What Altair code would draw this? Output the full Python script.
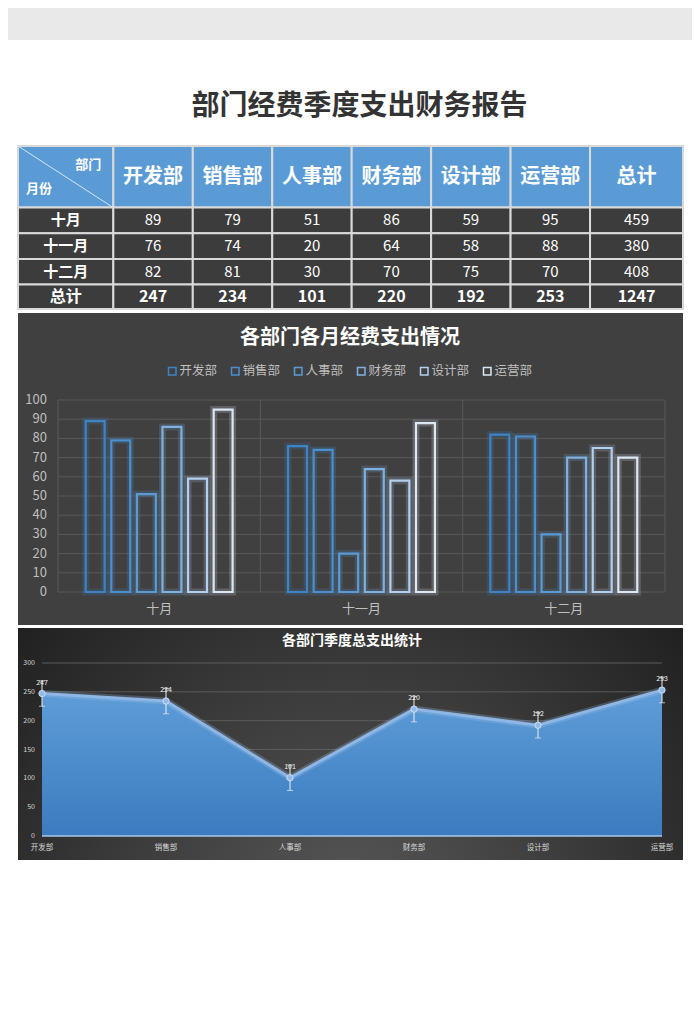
import altair as alt
import pandas as pd

# ---------------- data ----------------
REPORT_TITLE = "部门经费季度支出财务报告"
BAR_TITLE = "各部门各月经费支出情况"
AREA_TITLE = "各部门季度总支出统计"
CORNER_DEPT = "部门"
CORNER_MONTH = "月份"
TOTAL_LABEL = "总计"

depts = ["开发部", "销售部", "人事部", "财务部", "设计部", "运营部"]
months = ["十月", "十一月", "十二月"]
oct_vals = [89, 79, 51, 86, 59, 95]
nov_vals = [76, 74, 20, 64, 58, 88]
dec_vals = [82, 81, 30, 70, 75, 70]
month_totals = [459, 380, 408]
dept_totals = [247, 234, 101, 220, 192, 253]
grand_total = 1247
dept_err = [22, 22, 22, 22, 22, 22]
bar_ticks = [0, 10, 20, 30, 40, 50, 60, 70, 80, 90, 100]
area_ticks = [0, 50, 100, 150, 200, 250, 300]

# ---------------- style / layout ----------------
FONT = "Noto Sans CJK SC"
W = 684
bar_colors = ["#3d84c6", "#4a8fd0", "#5b9bd5", "#7fb1e0", "#b3cfee", "#dce7f4"]
HEADER_BLUE = "#5b9bd5"
BODY_DARK = "#3c3c3c"
GRID_LINE = "#d9d9d9"

# header panel
H1 = 132
# table panel
H2 = 171
TBL_X = [10, 675]
TBL_Y = [6, 169]
col_w = [1.2, 1, 1, 1, 1, 1, 1, 1.17]
row_w = [2.4, 1, 1, 1, 0.95]
# bar panel
H3 = 316
B_BG = (10, 2, 675, 314)
B_X = [50, 657]
B_Y = [281, 89]
B_GROUP = [27.7, 174.6]   # bar group span inside each month band
# area panel
H4 = 235
A_BG = (10, 1, 675, 233)
A_X = [34, 654]
A_Y = [209, 36]

one = pd.DataFrame({"k": [0]})


def bg_rect(box, fill):
    x0, y0, x1, y1 = box
    return alt.Chart(one).mark_rect(fill=fill).encode(
        x=alt.value(x0), x2=alt.value(x1), y=alt.value(y0), y2=alt.value(y1)
    )


def label(text, x, y, size, color, weight="normal"):
    return alt.Chart(pd.DataFrame({"t": [text]})).mark_text(
        fontSize=size, fontWeight=weight, color=color, font=FONT,
        align="center", baseline="middle"
    ).encode(text="t:N", x=alt.value(x), y=alt.value(y))


# ---------------- header ----------------
header = alt.layer(
    bg_rect((0, 0, W, 32), "#e9e9e9"),
    label(REPORT_TITLE, 351.5, 99, 28, "#333333", "bold"),
).properties(width=W, height=H1)

# ---------------- table ----------------
col_edges = [0]
for w_ in col_w:
    col_edges.append(col_edges[-1] + w_)
row_edges = [0]
for h_ in row_w:
    row_edges.append(row_edges[-1] + h_)

rows_text = [
    [""] + depts + [TOTAL_LABEL],
    [months[0]] + oct_vals + [month_totals[0]],
    [months[1]] + nov_vals + [month_totals[1]],
    [months[2]] + dec_vals + [month_totals[2]],
    [TOTAL_LABEL] + dept_totals + [grand_total],
]
cells = []
for r in range(5):
    for c in range(8):
        if r == 0:
            kind = "header"
        elif r == 4:
            kind = "total"
        elif c == 0:
            kind = "label"
        else:
            kind = "value"
        cells.append(dict(
            r=r, c=c, kind=kind, text=str(rows_text[r][c]),
            x0=col_edges[c], x1=col_edges[c + 1],
            y0=row_edges[r], y1=row_edges[r + 1],
            xm=(col_edges[c] + col_edges[c + 1]) / 2,
            ym=(row_edges[r] + row_edges[r + 1]) / 2,
            fill=HEADER_BLUE if r == 0 else BODY_DARK,
        ))
cells_df = pd.DataFrame(cells)

tx = alt.Scale(domain=[0, col_edges[-1]], range=TBL_X, nice=False, zero=False)
ty = alt.Scale(domain=[0, row_edges[-1]], range=TBL_Y, nice=False, zero=False)

tbl_base = alt.Chart(cells_df)
tbl_rects = tbl_base.mark_rect(stroke=GRID_LINE, strokeWidth=2).encode(
    x=alt.X("x0:Q", scale=tx, axis=None), x2="x1:Q",
    y=alt.Y("y0:Q", scale=ty, axis=None), y2="y1:Q",
    fill=alt.Fill("fill:N", scale=None),
)


def tbl_text(kind, size, weight):
    return tbl_base.transform_filter(alt.datum.kind == kind).mark_text(
        fontSize=size, fontWeight=weight, color="white", font=FONT,
        align="center", baseline="middle"
    ).encode(
        x=alt.X("xm:Q", scale=tx, axis=None),
        y=alt.Y("ym:Q", scale=ty, axis=None),
        text="text:N",
    )


corner = cells_df[(cells_df.r == 0) & (cells_df.c == 0)]
corner_line = alt.Chart(corner).mark_rule(color="#d6e6f5", strokeWidth=1).encode(
    x=alt.X("x0:Q", scale=tx, axis=None), x2="x1:Q",
    y=alt.Y("y0:Q", scale=ty, axis=None), y2="y1:Q",
)
corner_dept = alt.Chart(corner.assign(t=CORNER_DEPT)).mark_text(
    fontSize=13, fontWeight="bold", color="white", font=FONT,
    align="right", baseline="middle", dx=-12, dy=19
).encode(x=alt.X("x1:Q", scale=tx, axis=None), y=alt.Y("y0:Q", scale=ty, axis=None), text="t:N")
corner_month = alt.Chart(corner.assign(t=CORNER_MONTH)).mark_text(
    fontSize=13, fontWeight="bold", color="white", font=FONT,
    align="left", baseline="middle", dx=8, dy=-19
).encode(x=alt.X("x0:Q", scale=tx, axis=None), y=alt.Y("y1:Q", scale=ty, axis=None), text="t:N")

table = alt.layer(
    tbl_rects,
    corner_line,
    tbl_text("header", 20, "bold"),
    tbl_text("label", 15, "bold"),
    tbl_text("value", 15, "normal"),
    tbl_text("total", 16, "bold"),
    corner_dept,
    corner_month,
).properties(width=W, height=H2)

# ---------------- bar panel ----------------
bar_df = pd.DataFrame({
    "month": [m for m in months for _ in depts],
    "dept": depts * 3,
    "value": oct_vals + nov_vals + dec_vals,
})
bx = alt.Scale(domain=months, range=B_X, paddingInner=0, paddingOuter=0)
bxo = alt.Scale(domain=depts, range=B_GROUP, paddingInner=0.26, paddingOuter=0)
by = alt.Scale(domain=[0, 100], range=B_Y, nice=False, zero=True)
bar_legend = alt.Legend(
    orient="none", legendX=158, legendY=54, direction="horizontal", title=None,
    labelColor="#bfbfbf", labelFontSize=12.5, labelFont=FONT,
    symbolType="square", symbolSize=56, symbolStrokeWidth=1.5,
    symbolFillColor="transparent", labelOffset=1, columnPadding=10, padding=0,
)
stroke_enc = alt.Stroke("dept:N", scale=alt.Scale(domain=depts, range=bar_colors), legend=bar_legend)

grid_h = alt.Chart(pd.DataFrame({"t": bar_ticks})).mark_rule(color="#595959", strokeWidth=1).encode(
    y=alt.Y("t:Q", scale=by, axis=None), x=alt.value(B_X[0]), x2=alt.value(B_X[1])
)
grid_v = alt.Chart(pd.DataFrame({"month": months})).mark_rule(color="#595959", strokeWidth=1).encode(
    x=alt.X("month:N", scale=bx, axis=None, bandPosition=0),
    y=alt.Y(datum=100, scale=by, axis=None), y2=alt.Y2(datum=0),
)
grid_v_end = alt.Chart(pd.DataFrame({"month": months[-1:]})).mark_rule(color="#595959", strokeWidth=1).encode(
    x=alt.X("month:N", scale=bx, axis=None, bandPosition=1),
    y=alt.Y(datum=100, scale=by, axis=None), y2=alt.Y2(datum=0),
)
bar_enc = dict(
    x=alt.X("month:N", scale=bx, axis=None),
    xOffset=alt.XOffset("dept:N", scale=bxo),
    y=alt.Y("value:Q", scale=by, axis=None),
    stroke=stroke_enc,
)
bars_glow = alt.Chart(bar_df).mark_bar(fill="transparent", strokeWidth=7, strokeOpacity=0.2).encode(**bar_enc)
bars_main = alt.Chart(bar_df).mark_bar(fill="transparent", strokeWidth=2.2).encode(**bar_enc)
month_labels = alt.Chart(pd.DataFrame({"month": months})).mark_text(
    fontSize=13, color="#bfbfbf", font=FONT, baseline="middle"
).encode(x=alt.X("month:N", scale=bx, axis=None), y=alt.value(298), text="month:N")
ytick_labels = alt.Chart(pd.DataFrame({"t": bar_ticks})).mark_text(
    fontSize=13, color="#bfbfbf", font=FONT, align="right", baseline="middle"
).encode(y=alt.Y("t:Q", scale=by, axis=None), x=alt.value(39), text="t:Q")

bar_panel = alt.layer(
    bg_rect(B_BG, "#404040"),
    grid_h, grid_v, grid_v_end,
    bars_glow, bars_main,
    month_labels, ytick_labels,
    label(BAR_TITLE, 342, 27, 20, "#ffffff", "bold"),
).properties(width=W, height=H3)

# ---------------- area panel ----------------
area_df = pd.DataFrame({"dept": depts, "total": dept_totals, "err": dept_err})
ax = alt.Scale(type="point", domain=depts, range=A_X, padding=0)
ay = alt.Scale(domain=[0, 300], range=A_Y, nice=False, zero=True)

area_bg = alt.Chart(one).mark_rect(
    fill=alt.Gradient(
        gradient="radial",
        stops=[alt.GradientStop(color="#575757", offset=0),
               alt.GradientStop(color="#3a3a3a", offset=0.45),
               alt.GradientStop(color="#141414", offset=1)],
        x1=0.5, y1=0.75, r1=0, x2=0.5, y2=0.75, r2=0.8,
    )
).encode(x=alt.value(A_BG[0]), x2=alt.value(A_BG[2]), y=alt.value(A_BG[1]), y2=alt.value(A_BG[3]))

a_grid = alt.Chart(pd.DataFrame({"t": area_ticks[1:]})).mark_rule(color="#5c5c5c", strokeWidth=1).encode(
    y=alt.Y("t:Q", scale=ay, axis=None), x=alt.value(A_X[0]), x2=alt.value(A_X[1])
)
a_base = alt.Chart(area_df).encode(x=alt.X("dept:N", scale=ax, axis=None, sort=depts))
a_area = a_base.mark_area(
    color=alt.Gradient(
        gradient="linear",
        stops=[alt.GradientStop(color="#5f9dd8", offset=0),
               alt.GradientStop(color="#3b7bbf", offset=1)],
        x1=1, x2=1, y1=0, y2=1,
    ),
    opacity=1,
).encode(y=alt.Y("total:Q", scale=ay, axis=None))
a_zero = alt.Chart(one).mark_rule(color="#a9c8ec", strokeWidth=1.5).encode(
    y=alt.Y(datum=0, scale=ay, axis=None), x=alt.value(A_X[0]), x2=alt.value(A_X[1])
)
a_line_glow = a_base.mark_line(color="#9cc2ec", strokeWidth=7, opacity=0.25).encode(
    y=alt.Y("total:Q", scale=ay, axis=None))
a_line = a_base.mark_line(color="#8fb6e4", strokeWidth=3).encode(
    y=alt.Y("total:Q", scale=ay, axis=None))
a_err = a_base.transform_calculate(
    lo="datum.total - datum.err", hi="datum.total + datum.err"
).mark_rule(color="#eeeeee", strokeWidth=1).encode(
    y=alt.Y("lo:Q", scale=ay, axis=None), y2="hi:Q")
a_cap_lo = a_base.transform_calculate(lo="datum.total - datum.err").mark_tick(
    orient="horizontal", color="#eeeeee", size=6, thickness=1
).encode(y=alt.Y("lo:Q", scale=ay, axis=None))
a_cap_hi = a_base.transform_calculate(hi="datum.total + datum.err").mark_tick(
    orient="horizontal", color="#eeeeee", size=6, thickness=1
).encode(y=alt.Y("hi:Q", scale=ay, axis=None))
a_pts = a_base.mark_circle(size=40, color="#93bbe8", opacity=1, stroke="#c9ddf3", strokeWidth=1).encode(
    y=alt.Y("total:Q", scale=ay, axis=None))
a_labels = a_base.mark_text(fontSize=7, color="#f2f2f2", font=FONT, dy=-11, baseline="middle").encode(
    y=alt.Y("total:Q", scale=ay, axis=None), text="total:Q")
a_ylabels = alt.Chart(pd.DataFrame({"t": area_ticks})).mark_text(
    fontSize=7, color="#d9d9d9", font=FONT, align="right", baseline="middle"
).encode(y=alt.Y("t:Q", scale=ay, axis=None), x=alt.value(27), text="t:Q")
a_xlabels = a_base.mark_text(fontSize=7.5, color="#d9d9d9", font=FONT, baseline="middle").encode(
    y=alt.value(221), text="dept:N")

area_panel = alt.layer(
    area_bg, a_grid, a_area, a_zero, a_line_glow, a_line,
    a_err, a_cap_lo, a_cap_hi, a_pts, a_labels, a_ylabels, a_xlabels,
    label(AREA_TITLE, 344, 14, 14, "#ffffff", "bold"),
).properties(width=W, height=H4)

chart = alt.vconcat(
    header, table, bar_panel, area_panel, spacing=0, bounds="flush"
).resolve_scale(stroke="independent").properties(padding=0).configure(
    font=FONT, background="white"
).configure_view(stroke="transparent", strokeWidth=0)

chart.save("out.html", embed_options={"renderer": "svg", "actions": False})
